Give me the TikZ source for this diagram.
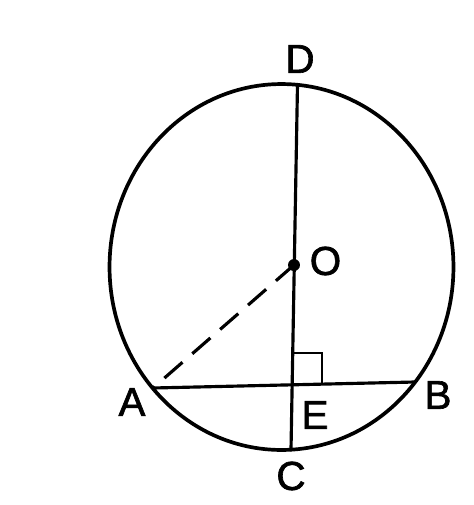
\documentclass[tikz,border=0pt]{standalone}
\usepackage{fontspec}
\setmainfont{Liberation Sans}[BoldFeatures={FakeBold=1.6},BoldFont=Liberation Sans]
\usetikzlibrary{calc,intersections}
\begin{document}
\begin{tikzpicture}[x=0.02cm,y=-0.02cm,
  lbl/.style={font=\fontsize{23}{26}\selectfont\bfseries, inner sep=0pt},
  ln/.style={line width=1.8pt, line cap=round},
  circ/.style={line width=2.1pt},
  dsh/.style={line width=1.8pt, dash pattern=on 0.48cm off 0.26cm}]
\useasboundingbox (0,0) rectangle (474,505);
\coordinate (ctr) at (281.5,267);
\coordinate (D) at (297.5,84.5);
\coordinate (C) at (291,450);
\coordinate (O) at (294,265);
\coordinate (A) at (153,388);
\coordinate (B) at (415,382);
\coordinate (E) at (intersection of A--B and D--C);
\draw[circ] (ctr) ellipse [x radius=3.44cm, y radius=3.66cm];
\draw[ln] (D) -- (C);
\draw[ln] (A) -- (B);
\draw[dsh] (O) -- (A);
\draw[line width=1.4pt] ($(E)+(0,-1)$) -- ++(0,-31) -- ++(30,0) -- ++(0,31);
\fill (O) circle [radius=0.12cm];
\node[lbl] (lD) at (300,59) {D};
\node[lbl] (lO) at (325.5,261) {O};
\node[lbl] (lA) at (132,402) {A};
\node[lbl] (lE) at (315,415) {E};
\node[lbl] (lB) at (438,395) {B};
\node[lbl] (lC) at (291,476) {C};
\end{tikzpicture}
\end{document}
